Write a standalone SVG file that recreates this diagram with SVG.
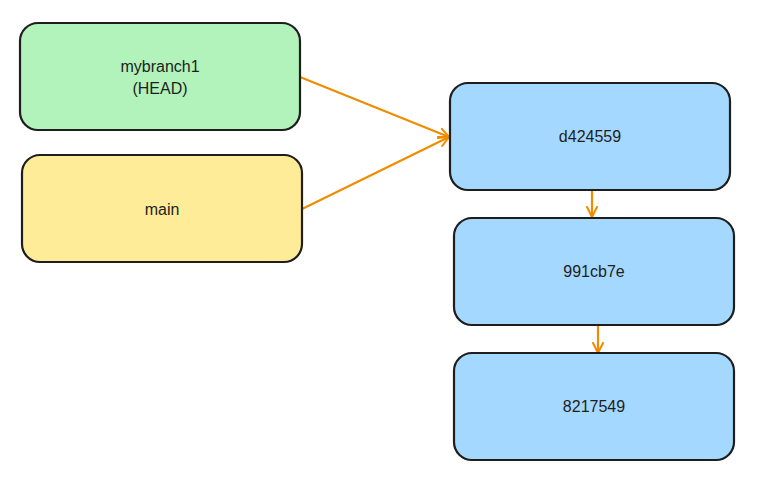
<svg xmlns="http://www.w3.org/2000/svg" width="758" height="483" viewBox="0 0 758 483">
<defs>
<style>
.box{stroke:#1e1e1e;stroke-width:2.2;}
.lbl{font-family:"Liberation Sans",Arial,sans-serif;font-size:16px;fill:#1e1e1e;text-anchor:middle;dominant-baseline:central;}
.edge{stroke:#f08c00;stroke-width:2.2;fill:none;stroke-linecap:round;}
</style>
<marker id="arr" viewBox="0 0 12 12" refX="11" refY="6" markerWidth="12" markerHeight="12" markerUnits="userSpaceOnUse" orient="auto">
<path d="M1,1 L11,6 L1,11" fill="none" stroke="#f08c00" stroke-width="2" stroke-linecap="round"/>
</marker>
</defs>
<rect width="758" height="483" fill="#ffffff"/>
<g id="connectors">
<line class="edge" x1="300" y1="77" x2="449" y2="137" marker-end="url(#arr)"/>
<line class="edge" x1="300" y1="210" x2="449" y2="137" marker-end="url(#arr)"/>
<line class="edge" x1="592" y1="191" x2="592" y2="217" marker-end="url(#arr)"/>
<line class="edge" x1="598" y1="326" x2="598" y2="353" marker-end="url(#arr)"/>
</g>
<g id="node-mybranch1">
<rect class="box" x="20" y="23" width="280" height="107" rx="18" fill="#b2f2bb"/>
<text class="lbl" x="160" y="66">mybranch1</text>
<text class="lbl" x="160" y="88">(HEAD)</text>
</g>
<g id="node-main">
<rect class="box" x="22" y="155" width="280" height="107" rx="18" fill="#ffec99"/>
<text class="lbl" x="162" y="209">main</text>
</g>
<g id="node-d424559">
<rect class="box" x="450" y="83" width="280" height="107" rx="18" fill="#a5d8ff"/>
<text class="lbl" x="590" y="136">d424559</text>
</g>
<g id="node-991cb7e">
<rect class="box" x="454" y="218" width="280" height="107" rx="18" fill="#a5d8ff"/>
<text class="lbl" x="594" y="271">991cb7e</text>
</g>
<g id="node-8217549">
<rect class="box" x="454" y="353" width="280" height="107" rx="18" fill="#a5d8ff"/>
<text class="lbl" x="594" y="406">8217549</text>
</g>
</svg>
